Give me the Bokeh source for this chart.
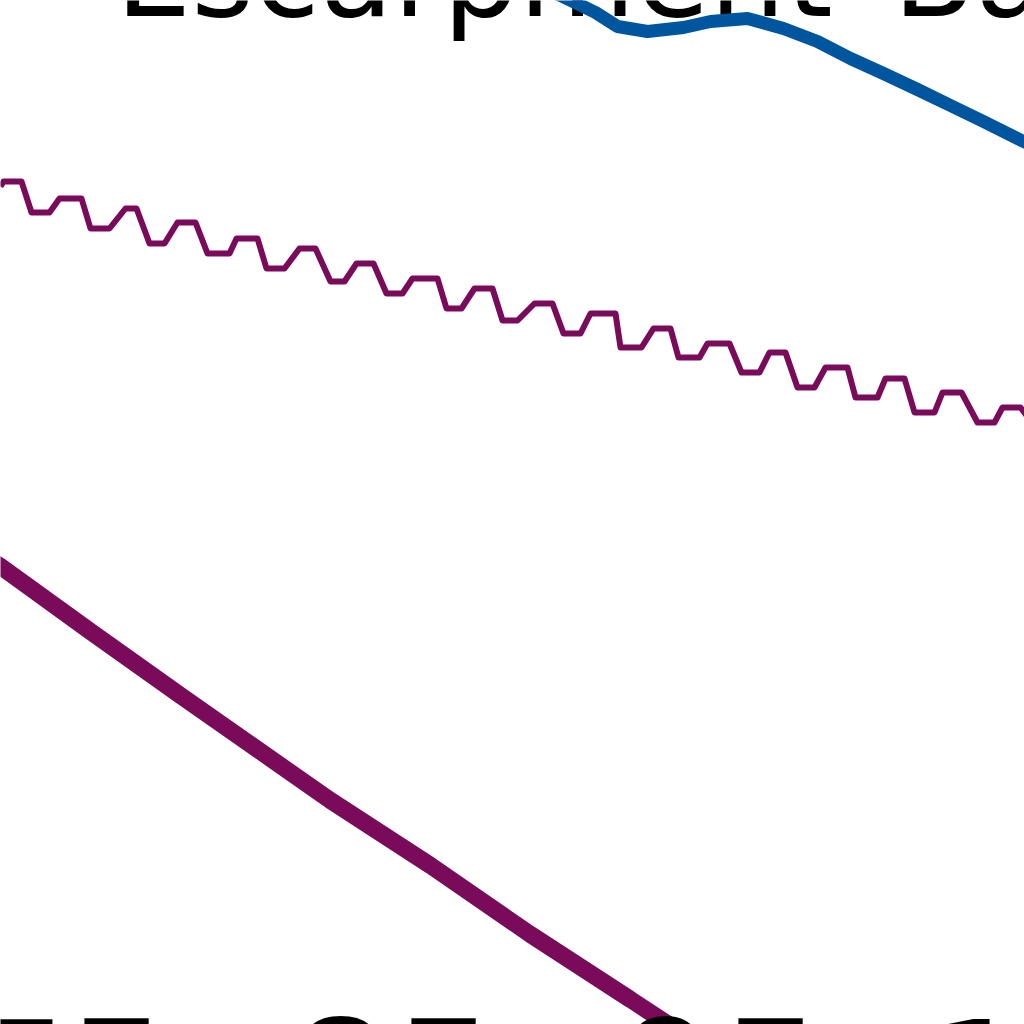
import numpy as np
from bokeh.plotting import figure
from bokeh.models import Range1d, Label
from bokeh.embed import file_html
from bokeh.resources import INLINE

# Escarpment Basin - zoomed view (x: km along section, y: relative level)

title_text = "Escarpment\u2002Basin"

# blue series
blue_x = [50.0, 56.0, 59.5, 61.7, 64.7, 68.3, 71.0, 74.7, 78.3, 81.7, 85.0, 88.3, 91.7, 95.0, 98.3, 101.7, 105.0]
blue_y = [105.3, 102.9, 101.2, 99.8, 99.3, 99.7, 100.3, 100.6, 99.6, 98.3, 96.6, 95.1, 93.5, 91.9, 90.3, 88.6, 87.0]

# wavy purple series
wave_x = [0.0, 0.3, 2.1, 3.1, 4.9, 5.9, 8.1, 9.0, 10.9, 12.5, 13.6, 14.9, 16.4, 17.7, 19.5,
          20.7, 22.9, 23.6, 25.7, 26.6, 28.4, 29.9, 31.5, 33.0, 34.4, 35.6, 37.3, 38.6, 40.2,
          41.2, 43.7, 44.6, 46.1, 47.4, 49.2, 50.2, 51.7, 53.4, 55.2, 56.3, 58.0, 59.0, 61.5,
          62.0, 64.1, 65.3, 67.0, 67.8, 69.9, 70.7, 72.9, 74.1, 75.9, 76.9, 78.5, 79.7, 81.4,
          82.5, 84.7, 85.5, 87.7, 88.5, 90.4, 91.4, 93.4, 94.2, 96.1, 97.7, 99.4, 100.2, 102.0,
          103.0, 104.0]
wave_y = [83.8, 84.3, 84.3, 81.2, 81.2, 82.6, 82.6, 79.6, 79.6, 81.6, 81.6, 78.1, 78.1, 80.2, 80.2,
          77.1, 77.1, 78.6, 78.6, 75.6, 75.6, 77.6, 77.6, 74.3, 74.3, 76.1, 76.1, 73.1, 73.1,
          74.6, 74.6, 71.6, 71.6, 73.6, 73.6, 70.4, 70.4, 72.1, 72.1, 69.1, 69.1, 71.1, 71.1,
          67.7, 67.7, 69.6, 69.6, 66.7, 66.7, 68.1, 68.1, 65.2, 65.2, 67.2, 67.2, 63.7, 63.7,
          65.7, 65.7, 62.7, 62.7, 64.6, 64.6, 61.2, 61.2, 63.2, 63.2, 60.2, 60.2, 61.7, 61.7,
          60.4, 59.4]

# thick purple series
trend_x = [-2.0, 0.0, 9.0, 18.0, 27.0, 33.0, 43.0, 53.0, 63.0, 70.0]
trend_y = [47.1, 45.8, 39.3, 32.9, 26.6, 22.4, 15.9, 9.0, 2.5, -2.1]

# x tick labels (only their tops show at the bottom edge)
tick_pos = [6.6, 39.3, 72.0, 108.4]
tick_labels = ["75", "85", "95", "105"]

p = figure(width=1024, height=1024, margin=(0, 0, 0, 0),
           x_range=Range1d(0, 102.4), y_range=Range1d(0, 102.4),
           x_axis_location=None, y_axis_location=None,
           toolbar_location=None, output_backend="svg", min_border=0)
p.grid.visible = False
p.outline_line_color = None
p.background_fill_color = "white"
p.border_fill_color = "white"

# titre (sous les courbes)
titre = Label(x=11.5, y=105.0, text=title_text, text_font="DejaVu Sans",
              text_font_size="120px", text_color="black",
              text_align="left", text_baseline="alphabetic", level="underlay")
p.add_layout(titre)

p.line(trend_x, trend_y, line_color="#7a0b5b", line_width=17)
p.line(wave_x, wave_y, line_color="#7a0b5b", line_width=6, line_join="round")
p.line(blue_x, blue_y, line_color="#00559f", line_width=13, line_join="round")

for pos, lab in zip(tick_pos, tick_labels):
    p.add_layout(Label(x=pos, y=-5.4, text=lab, text_font="DejaVu Sans",
                       text_font_size="166px", text_color="black",
                       text_align="center", text_baseline="alphabetic"))

open("out.html", "w").write(file_html(p, INLINE))
